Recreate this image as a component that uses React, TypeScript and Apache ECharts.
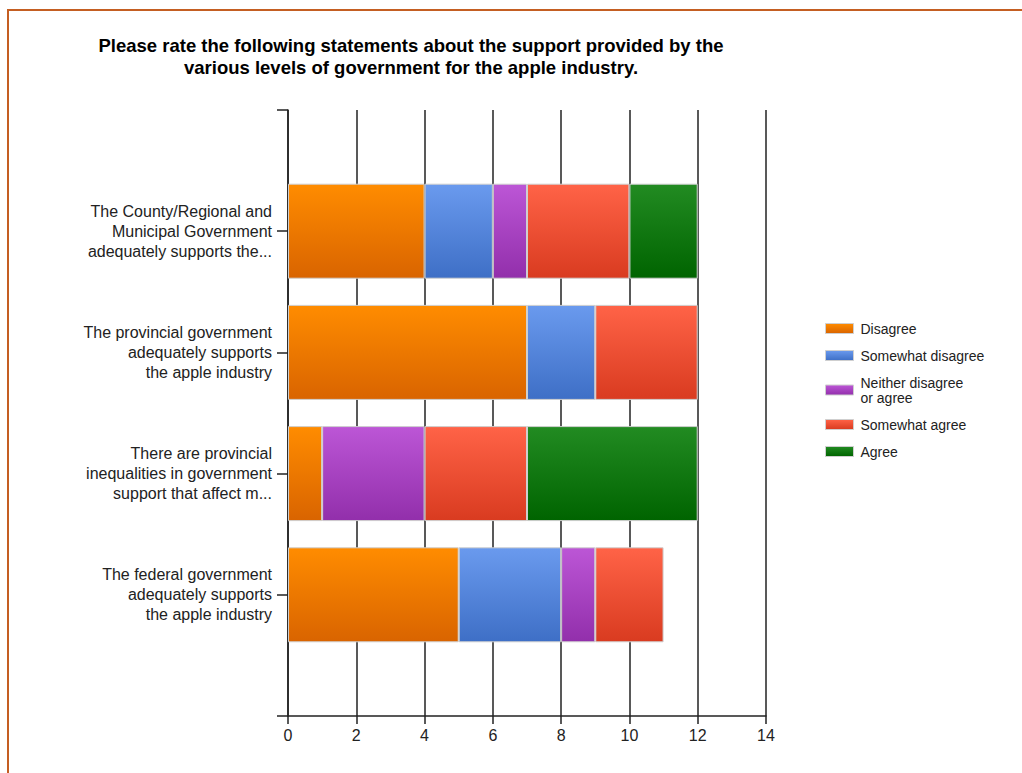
import React, { useEffect, useRef } from "react";
import * as echarts from "echarts";

const categories = [
  "",
  "The County/Regional and\nMunicipal Government\nadequately supports the...",
  "The provincial government\nadequately supports\nthe apple industry",
  "There are provincial\ninequalities in government\nsupport that affect m...",
  "The federal government\nadequately supports\nthe apple industry",
  "",
];

const seriesNames = [
  "Disagree",
  "Somewhat disagree",
  "Neither disagree\nor agree",
  "Somewhat agree",
  "Agree",
];

// values per statement (top to bottom)
const disagree = [4, 7, 1, 5];
const somewhatDisagree = [2, 2, 0, 3];
const neither = [1, 0, 3, 1];
const somewhatAgree = [3, 3, 3, 2];
const agree = [2, 0, 5, 0];

const xTicks = [0, 2, 4, 6, 8, 10, 12, 14];

const gradients: [string, string][] = [
  ["#FF8C00", "#D96400"],
  ["#6A9AEE", "#3E6FC6"],
  ["#BC56D6", "#922FAB"],
  ["#FF6347", "#D93B20"],
  ["#228B22", "#006400"],
];

const FONT = "'Liberation Sans', Arial, sans-serif";

export default function App() {
  const ref = useRef<HTMLDivElement>(null);
  useEffect(() => {
    document.body.style.margin = "0";
    const chart = echarts.init(ref.current!, undefined, { renderer: "svg" });
    const allValues = [disagree, somewhatDisagree, neither, somewhatAgree, agree];
    const series = allValues.map((vals, i) => ({
      name: seriesNames[i],
      type: "bar",
      stack: "total",
      barWidth: 95,
      data: ["-", ...vals.map((v) => (v === 0 ? "-" : v)), "-"],
      itemStyle: {
        color: new echarts.graphic.LinearGradient(0, 0, 0, 1, [
          { offset: 0, color: gradients[i][0] },
          { offset: 1, color: gradients[i][1] },
        ]),
        borderColor: "#cfcfcf",
        borderWidth: 1,
      },
    }));
    chart.setOption({
      animation: false,
      backgroundColor: "#ffffff",
      title: {
        text:
          "Please rate the following statements about the support provided by the\nvarious levels of government for the apple industry.",
        left: 411,
        top: 34,
        textAlign: "center",
        padding: 0,
        textStyle: {
          fontSize: 18.5,
          fontWeight: "bold",
          lineHeight: 22,
          color: "#000",
          fontFamily: FONT,
        },
      },
      legend: {
        orient: "vertical",
        left: 825,
        top: 321,
        padding: 0,
        itemWidth: 28,
        itemHeight: 10,
        itemGap: 12,
        icon: "rect",
        textStyle: {
          fontSize: 14,
          lineHeight: 15,
          color: "#222",
          fontFamily: FONT,
          padding: [0, 0, 0, 2],
        },
        itemStyle: { borderColor: "#cfcfcf", borderWidth: 1 },
        data: seriesNames,
      },
      grid: { left: 288, right: 256, top: 110, bottom: 57, containLabel: false },
      xAxis: {
        type: "value",
        min: xTicks[0],
        max: xTicks[xTicks.length - 1],
        interval: 2,
        axisLine: { show: true, lineStyle: { color: "#222", width: 1.5 } },
        axisTick: { show: true, length: 8, lineStyle: { color: "#222", width: 1.5 } },
        axisLabel: {
          fontSize: 16,
          color: "#222",
          fontFamily: FONT,
          margin: 11,
        },
        splitLine: { show: true, lineStyle: { color: "#222", width: 1.5 } },
      },
      yAxis: {
        type: "category",
        inverse: true,
        boundaryGap: false,
        data: categories,
        axisLine: { show: true, lineStyle: { color: "#222", width: 1.5 } },
        axisTick: { show: true, length: 11, lineStyle: { color: "#222", width: 1.5 } },
        axisLabel: {
          fontSize: 16,
          lineHeight: 20,
          color: "#222",
          fontFamily: FONT,
          margin: 16,
          align: "right",
        },
        splitLine: { show: false },
      },
      graphic: [
        {
          type: "line",
          shape: { x1: 8, y1: 10, x2: 1022, y2: 10 },
          style: { stroke: "#C45E22", lineWidth: 2 },
        },
        {
          type: "line",
          shape: { x1: 8, y1: 9, x2: 8, y2: 773 },
          style: { stroke: "#C45E22", lineWidth: 2 },
        },
      ],
      series,
    });
    return () => chart.dispose();
  }, []);
  return (
    <div
      ref={ref}
      style={{ position: "absolute", left: 0, top: 0, width: 1022, height: 773 }}
    />
  );
}
